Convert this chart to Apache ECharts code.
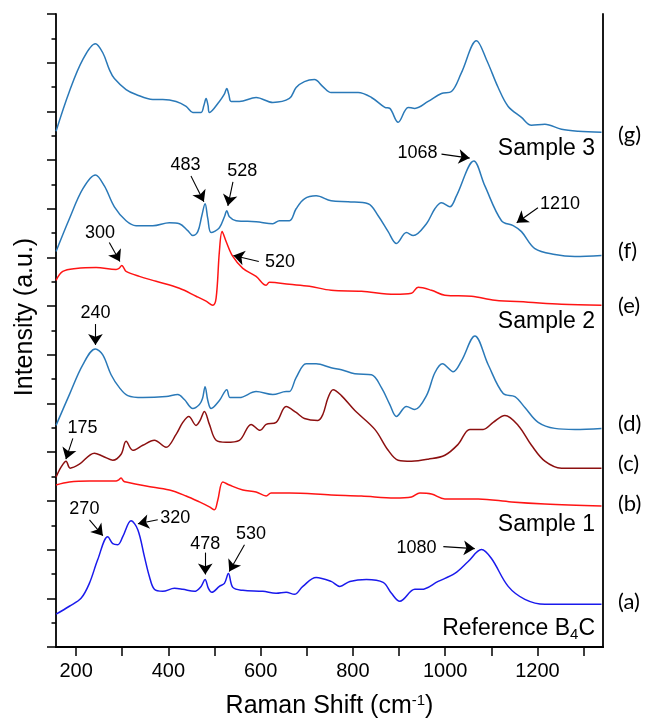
<!DOCTYPE html>
<html>
<head>
<meta charset="utf-8">
<script src="https://cdn.jsdelivr.net/npm/echarts@6/dist/echarts.min.js"></script>
<style>
  html, body { margin: 0; padding: 0; background: #fff; }
  #chart { width: 647px; height: 724px; }
</style>
</head>
<body>
<div id="chart"></div>
<script>
// Raman spectra (wavenumber in cm^-1, offset intensity in a.u.)
const sample3g = [[156.6,519],[185.5,559],[214.5,591],[241.8,607],[257.9,598],[272.2,581],[283,572],[308.4,561],[330,556],[366.3,551],[388,551],[416.8,549],[438.5,544],[453,538],[471,538],[477,545],[481.8,552],[486,545],[489,538],[510.6,549],[521,556],[526.7,562],[531,556],[536,549],[554,549],[590.2,553],[626.4,548],[662.4,552],[676.9,563],[694.9,569],[716.6,571],[734.8,564],[752.8,558],[775.1,558],[811.3,558],[840.2,553],[869.2,543],[880,542],[898,528],[919.7,543],[934.2,542],[963.1,549],[991.9,557],[1013.6,559],[1035.3,578],[1067.8,610],[1089.5,591],[1114.8,563],[1136.5,544],[1165.3,533],[1187,525],[1216,526],[1252,521],[1288.2,519],[1338.7,518]];
const sample3f = [[156.6,398],[185.5,431],[214.5,461],[241.8,475],[261.3,464],[283,443],[308.4,429],[330,424],[366.3,424],[402.3,427],[424,426],[442.1,419],[453,414],[463.8,418],[472.5,434],[479.6,446],[485.5,431],[492.7,417],[510.6,422],[521.5,433],[526.7,439],[532.3,433],[546.9,429],[590.2,428],[626.4,426],[640.7,429],[662.4,429],[676.9,441],[694.9,451],[720.3,454],[752.8,449],[789.6,448],[833,446],[854.7,434],[876.4,418],[894.4,406],[916,417],[930.6,414],[959.4,426],[977.6,441],[991.9,447],[1010.1,443],[1024.4,454],[1062.1,489],[1086,464],[1122,429],[1147.3,424],[1165.3,418],[1194.4,401],[1237.7,395],[1281.1,393],[1338.7,394]];
const sample2e = [[156.6,369],[171.2,378],[200,381],[243.4,382],[286.7,380],[293,381],[299.1,384],[304,381],[308.4,378],[337.2,373],[373.4,368],[423.9,361],[460.1,353],[481.8,348],[496.3,344],[503.5,351],[510.6,398],[516.5,418],[525.2,408],[539.7,393],[561.4,381],[590.2,373],[611.9,364],[619.1,367],[662.4,365],[705.8,363],[752.8,359],[818.5,358],[890.9,355],[926.9,356],[941.4,362],[970.2,359],[999.3,354],[1056.9,353],[1107.7,349],[1179.8,347],[1252,345],[1338.7,344]];
const sample2d = [[156.6,223],[185.5,254],[214.5,284],[241.8,300],[257.9,294],[275.9,274],[293.9,261],[312.1,253],[344.6,251],[395.1,252],[420.5,254],[434.8,249],[453,240],[467.3,244],[474,250],[479.6,262],[485.5,248],[492.7,240],[510.6,248],[526.7,259],[533.8,251],[554,251],[590.2,257],[626.4,254],[655.3,257],[662.4,257],[676.9,271],[698.6,285],[720.3,285],[752.8,281],[775.1,279],[804.2,275],[840.2,274],[861.8,261],[880,244],[894.4,232],[916,242],[934.2,239],[959.4,253],[977.6,276],[994.1,285],[1017.3,277],[1035.3,288],[1064.3,313],[1093.2,284],[1125.7,255],[1151,252],[1172.7,241],[1201.5,226],[1237.7,220],[1281.1,219],[1338.7,220]];
const sample1c = [[156.6,171],[167.5,181],[178.3,187],[187,180],[207.2,184],[239.7,195],[257.9,192],[279.6,188],[297.6,194],[308.4,207],[322.9,198],[344.6,203],[369.7,208],[395.1,201],[416.8,214],[431.3,226],[444.3,232],[460.1,223],[468.8,228],[478.1,237],[489,224],[503.5,208],[525.2,206],[554,208],[579.4,224],[598.9,218],[611.9,224],[633.6,226],[655.3,242],[676.9,236],[694.9,230],[724,228],[734.8,234],[746.3,251],[757.1,259],[775.1,253],[804.2,238],[847.5,219],[876.4,198],[898,188],[926.9,187],[963.1,189],[999.3,193],[1028.1,204],[1053.5,219],[1082.3,219],[1104,226],[1129.4,233],[1158.2,223],[1187,203],[1216,187],[1252,180],[1338.7,180]];
const sample1b = [[156.6,163],[185.5,166],[228.8,167],[286.7,167],[292,168],[297.6,170],[303,167],[308.4,166],[351.7,162],[402.3,158],[438.5,152],[467.3,146],[489,141],[499.8,138],[507.2,148],[518,166],[532.3,163],[561.4,158],[590.2,156],[611.9,152],[622.7,155],[662.4,155],[752.8,153],[818.5,152],[890.9,150],[926.9,151],[945.1,155],[970.2,154],[999.3,149],[1071.5,149],[1143.6,146],[1216,144],[1338.7,142]];
const referenceB4C = [[156.6,33],[185.5,41],[210.8,49],[228.8,64],[247,88],[268.7,111],[279.6,104],[290.4,103],[301.2,111],[319.2,127],[333.8,118],[348.1,91],[358.9,71],[369.7,58],[388,56],[413.1,59],[431.3,58],[456.5,56],[471,61],[479.6,68],[486.8,59],[494.2,55],[510.6,61],[521.5,64],[530.2,74],[539.7,60],[561.4,57],[604.7,56],[633.6,54],[655.3,55],[673.2,53],[691.5,61],[720.3,70],[752.8,66],[771.6,61],[793.3,66],[829.3,68],[865.5,65],[883.5,54],[901.7,46],[934.2,58],[948.5,58],[984.7,66],[1020.9,74],[1049.8,86],[1078.6,98],[1100.3,89],[1136.5,61],[1172.7,48],[1216,43],[1338.7,43]];

// Peak annotations: label, text anchor [x, y], arrow tail, arrow head
const peakNotes = {
  g: [],
  f: [
    ['483', [437, 485], [449, 474], [477, 448]],
    ['528', [560, 479], [540, 468], [529, 444]],
    ['1068', [940, 497], [992, 496], [1053, 492]],
    ['1210', [1249, 446], [1201, 442], [1155, 427]]
  ],
  e: [
    ['300', [252, 417], [272, 407], [295, 388]],
    ['520', [642, 387], [596, 388], [541, 394]]
  ],
  d: [
    ['240', [242, 336], [242, 325], [242, 304]]
  ],
  c: [
    ['175', [214, 220], [193, 210], [178, 189]]
  ],
  b: [],
  a: [
    ['270', [218, 139], [229, 128], [258, 112]],
    ['320', [415, 130], [377, 128], [334, 124]],
    ['478', [480, 104], [480, 95], [480, 73]],
    ['530', [579, 114], [565, 103], [532, 76]],
    ['1080', [938, 100], [996, 101], [1064, 99]]
  ]
};

const xMajorTicks = [200, 300, 400, 500, 600, 700, 800, 900, 1000, 1100, 1200, 1300];
const xLabelValues = [200, 400, 600, 800, 1000, 1200];

const traceLabels = ['(g)', '(f)', '(e)', '(d)', '(c)', '(b)', '(a)'];
const sampleNames = ['Sample 3', 'Sample 2', 'Sample 1', 'Reference B{sub|4}C'];

const BLUE = '#2a79b8', RED = '#ff1414', MAROON = '#8c1010', REFBLUE = '#1a1aec';
const SANS = '"Liberation Sans", Arial, sans-serif';

function spectrum(name, data, color, notes) {
  return {
    name, type: 'line', data, showSymbol: false, symbol: 'none',
    smooth: 0.35,
    lineStyle: { color, width: 1.5 },
    silent: true,
    markLine: {
      silent: true, symbol: ['none', 'arrow'], symbolSize: 11,
      lineStyle: { color: '#000', width: 1.1, type: 'solid' },
      itemStyle: { color: '#000' },
      label: { show: false },
      data: notes.map(n => [{ coord: n[2] }, { coord: n[3] }])
    },
    markPoint: {
      silent: true, symbol: 'circle', symbolSize: 0,
      label: { show: true, position: 'inside', color: '#000', fontSize: 18, fontFamily: SANS,
               formatter: p => p.name },
      data: notes.map(n => ({ name: n[0], coord: n[1] }))
    }
  };
}

const chart = echarts.init(document.getElementById('chart'), null, { renderer: 'canvas' });

const axisLine = { show: true, lineStyle: { color: '#000', width: 1.8 } };

const option = {
  animation: false,
  backgroundColor: '#fff',
  grid: { left: 56, right: 44, top: 14, bottom: 73, containLabel: false },
  xAxis: [{
    type: 'value', min: 156.5, max: 1342, position: 'bottom',
    axisLine, splitLine: { show: false },
    axisTick: { show: true, inside: false, length: 9, lineStyle: { color: '#000', width: 1.5 }, customValues: xMajorTicks },
    axisLabel: { show: true, margin: 14, color: '#000', fontSize: 20, fontFamily: SANS, customValues: xLabelValues,
                 formatter: v => String(v) },
    name: 'Raman Shift (cm{sup|-1})', nameLocation: 'middle', nameGap: 46,
    nameTextStyle: { color: '#000', fontSize: 25, fontFamily: SANS,
      rich: { sup: { fontSize: 15, verticalAlign: 'top', padding: [0, 0, 12, 0], fontFamily: SANS, color: '#000' } } }
  }, {
    type: 'value', min: 156.5, max: 1342, position: 'top',
    axisLine, splitLine: { show: false },
    axisTick: { show: true, inside: true, length: 8, lineStyle: { color: '#000', width: 1.5 }, customValues: xMajorTicks },
    axisLabel: { show: false }
  }],
  yAxis: [{
    type: 'value', min: 0, max: 637, interval: 49, position: 'left',
    axisLine, splitLine: { show: false },
    axisTick: { show: true, inside: false, length: 9, lineStyle: { color: '#000', width: 1.5 } },
    minorTick: { show: true, splitNumber: 2, length: 4.5, lineStyle: { color: '#000', width: 1.5 } },
    minorSplitLine: { show: false },
    axisLabel: { show: false }
  }, {
    type: 'value', min: 0, max: 637, interval: 49, position: 'right',
    axisLine, splitLine: { show: false },
    axisTick: { show: false }, axisLabel: { show: false }
  }],
  series: [
    spectrum('g', sample3g, BLUE, peakNotes.g),
    spectrum('f', sample3f, BLUE, peakNotes.f),
    spectrum('e', sample2e, RED, peakNotes.e),
    spectrum('d', sample2d, BLUE, peakNotes.d),
    spectrum('c', sample1c, MAROON, peakNotes.c),
    spectrum('b', sample1b, RED, peakNotes.b),
    spectrum('a', referenceB4C, REFBLUE, peakNotes.a)
  ]
};

chart.setOption(option);

// Trace letters beside each spectrum's right end, sample names above their spectra
const letterY = [138, 254, 309, 427, 467, 507, 605];
const nameY = [149, 322, 525, 629];
const graphics = [];
traceLabels.forEach((t, i) => {
  graphics.push({ type: 'text', left: 618, top: letterY[i] - 14, silent: true,
    style: { text: t, fill: '#000', font: '22px Lato, "Open Sans", sans-serif' } });
});
sampleNames.forEach((t, i) => {
  graphics.push({ type: 'text', x: 595, y: nameY[i], silent: true,
    style: { text: t, fill: '#000', fontSize: 23, fontFamily: SANS, align: 'right', verticalAlign: 'middle',
      rich: { sub: { fontSize: 15, fontFamily: SANS, fill: '#000', padding: [12, 0, 0, 0] } } } });
});
graphics.push({ type: 'text', x: 25, y: 317, rotation: Math.PI / 2, silent: true,
  style: { text: 'Intensity (a.u.)', fill: '#000', fontSize: 25, fontFamily: SANS, align: 'center', verticalAlign: 'middle' } });
chart.setOption({ graphic: graphics });
</script>
</body>
</html>
